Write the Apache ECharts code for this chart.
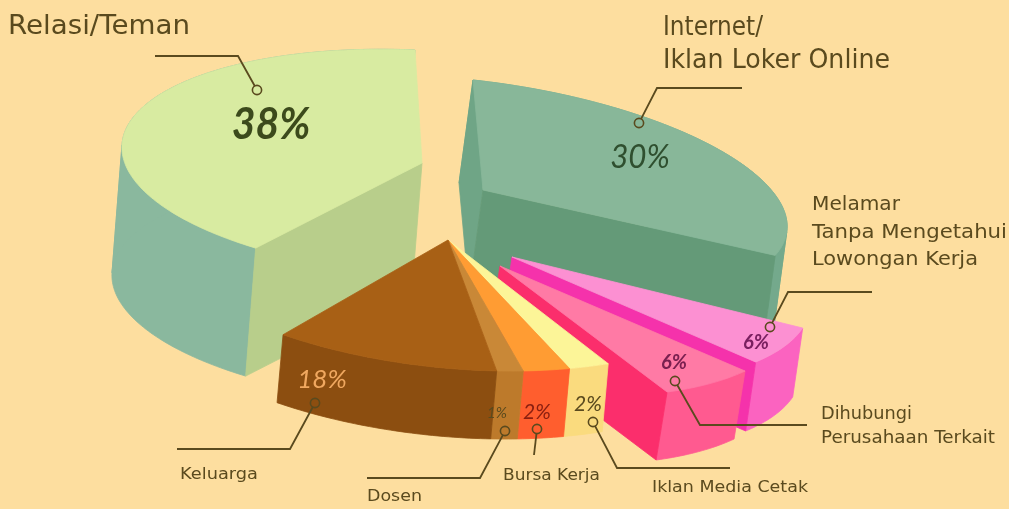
<!DOCTYPE html>
<html><head><meta charset="utf-8">
<style>html,body{margin:0;padding:0;background:#FDDE9F}#c{width:1009px;height:509px}</style>
<script src="https://cdn.jsdelivr.net/npm/echarts@6/dist/echarts.min.js"></script>
</head><body><div id="c"></div>
<script>
// ---- data ----
var categories = ['Relasi/Teman','Internet/Iklan Loker Online','Melamar Tanpa Mengetahui Lowongan Kerja','Dihubungi Perusahaan Terkait','Iklan Media Cetak','Bursa Kerja','Dosen','Keluarga'];
var percentValues = [38,30,6,6,2,2,1,18];
var percentLabels = ['38%','30%','6%','6%','2%','2%','1%','18%'];

// ---- geometry: each slice's sweep = value x degPerUnit on its projected ellipse ----
var lowerU=[303,-3], lowerV=[70,131], lowerApex=[448,240], lowerD=[-6,68];
var sliceLayout = [
 {apex:[422,163],u:[300,13],v:[7,113],start:125,deg:3.816,d:[-10,128],top:'#D8EBA1',outer:'#8AB89E',wallS:'#B8CE8B',wallE:null},
 {apex:[483,190],u:[304,33],v:[10,110],start:-90,deg:3.6,d:[-14,103],top:'#88B799',outer:'#74A98C',wallS:'#6FA586',wallE:'#649A78'},
 {apex:[512,257],u:[272,89.6],v:[-125.6,90.7],start:-10.8,deg:3.6,d:[-10,69],top:'#FC90D2',outer:'#FB63C0',wallS:null,wallE:'#F532AB'},
 {apex:[500,266],u:[209.8,117.6],v:[-208,56],start:-10.8,deg:3.6,d:[-11,68],top:'#FF7AA5',outer:'#FF5A90',wallS:null,wallE:'#FB2E6C'},
 {apex:lowerApex,u:lowerU,v:lowerV,start:72,deg:4,d:lowerD,top:'#FCF598',outer:'#FADB7E'},
 {apex:lowerApex,u:lowerU,v:lowerV,start:80,deg:4.5,d:lowerD,top:'#FF9C33',outer:'#FF5E2E'},
 {apex:lowerApex,u:lowerU,v:lowerV,start:89,deg:5,d:lowerD,top:'#C98837',outer:'#BD7A2B'},
 {apex:lowerApex,u:lowerU,v:lowerV,start:94,deg:2.28,d:lowerD,top:'#A86015',outer:'#8C4E10'}
];
var percentStyle = [
 {pos:[271,125],size:44,sx:0.93,color:'#3C4A1C',bold:true},{pos:[640,157],size:33,sx:0.95,color:'#2F4F2F',bold:false},
 {pos:[756,343],size:20,sx:1,color:'#7A2060',bold:true},{pos:[674,363],size:20,sx:1,color:'#7A2050',bold:true},
 {pos:[588,404],size:21,sx:1,color:'#5A4A1E',bold:false},{pos:[537,412],size:21,sx:1,color:'#8A1F10',bold:false},
 {pos:[497,413],size:15,sx:1,color:'#5A4A1E',bold:false},{pos:[322,380],size:26,sx:1,color:'#F0A860',bold:false}
];
var leaderPaths = [
 [[155,56],[238,56],[257,90]],[[742,88],[657,88],[639,123]],[[872,292],[788,292],[770,327]],
 [[807,425],[700,425],[675,381]],[[730,468],[617,468],[593,422]],[[534,455],[537,429]],
 [[367,478],[480,478],[505,431]],[[177,449],[290,449],[315,403]]
];
var nameLabels = [
 {t:'Relasi/Teman',x:8,y:27,s:26,w:182},{t:'Internet/',x:663,y:28,s:26,w:100},{t:'Iklan Loker Online',x:663,y:61,s:26,w:227},
 {t:'Melamar',x:812,y:205,s:19.5,w:88},{t:'Tanpa Mengetahui',x:812,y:233,s:19.5,w:195},{t:'Lowongan Kerja',x:812,y:260,s:19.5,w:166},
 {t:'Dihubungi',x:821,y:414,s:17.5,w:91},{t:'Perusahaan Terkait',x:821,y:438,s:17.5,w:174},
 {t:'Iklan Media Cetak',x:652,y:488,s:16.5,w:156},{t:'Bursa Kerja',x:503,y:476,s:16.5,w:97},
 {t:'Dosen',x:367,y:497,s:16.5,w:55},{t:'Keluarga',x:180,y:475,s:16.5,w:78}
];
var inkColor='#5A4A1E';

function ptAt(l,t){var r=t*Math.PI/180,c=Math.cos(r),s=Math.sin(r);
 return [l.apex[0]+l.u[0]*c+l.v[0]*s,l.apex[1]+l.u[1]*c+l.v[1]*s];}
function add(p,d){return [p[0]+d[0],p[1]+d[1]];}
var measureCtx=document.createElement('canvas').getContext('2d');
function fitScale(s){measureCtx.font=s.s+'px "DejaVu Sans"';return s.w/measureCtx.measureText(s.t).width;}

var chart=echarts.init(document.getElementById('c'));
chart.setOption({
 animation:false,backgroundColor:'#FDDE9F',
 grid:{left:0,right:0,top:0,bottom:0},
 xAxis:{type:'value',min:0,max:1009,show:false},
 yAxis:{type:'value',min:0,max:509,inverse:true,show:false},
 series:[
  {type:'custom',coordinateSystem:'cartesian2d',silent:true,
   data:percentValues.map(function(v,i){return [i,v];}),
   encode:{x:0,y:1},clip:false,
   renderItem:function(params,api){
    var i=api.value(0),val=api.value(1),l=sliceLayout[i],sweep=val*l.deg,rim=[];
    var n=Math.max(6,Math.ceil(sweep));
    for(var k=0;k<=n;k++){rim.push(ptAt(l,l.start+sweep*k/n));}
    var P=function(pts){return pts.map(function(p){return api.coord(p);});};
    var ch=[];
    var poly=function(pts,col){ch.push({type:'polygon',shape:{points:P(pts)},style:{fill:col,stroke:col,lineWidth:0.8}});};
    // outer wall: one simple band per run of rim that turns the same way against the extrusion
    var sign=function(j){var a=rim[j],b=rim[j+1];return ((b[0]-a[0])*l.d[1]-(b[1]-a[1])*l.d[0])>=0;};
    var from=0;
    for(var j=1;j<=n;j++){
      if(j===n||sign(j)!==sign(from)){
        var run=rim.slice(from,j+1);
        poly(run.concat(run.map(function(p){return add(p,l.d);}).reverse()),l.outer);
        from=j;
      }
    }
    var A=l.apex,S=rim[0],E=rim[n];
    if(l.wallS){poly([A,S,add(S,l.d),add(A,l.d)],l.wallS);}
    if(l.wallE){poly([A,E,add(E,l.d),add(A,l.d)],l.wallE);}
    poly([A].concat(rim),l.top);
    return {type:'group',children:ch};
   }},
  {type:'custom',coordinateSystem:'cartesian2d',silent:true,z:5,
   data:leaderPaths.map(function(p,i){return [i];}),
   encode:{x:0},clip:false,
   renderItem:function(params,api){
    var i=api.value(0),path=leaderPaths[i],pts=path.map(function(p){return api.coord(p);}),e=pts[pts.length-1];
    var last=pts[pts.length-2],dx=e[0]-last[0],dy=e[1]-last[1],len=Math.sqrt(dx*dx+dy*dy),r=4.6;
    var line=pts.slice(0,pts.length-1).concat([[e[0]-dx/len*r,e[1]-dy/len*r]]);
    return {type:'group',children:[
     {type:'polyline',shape:{points:line},style:{stroke:inkColor,lineWidth:1.8,fill:null}},
     {type:'circle',shape:{cx:e[0],cy:e[1],r:r},style:{stroke:inkColor,lineWidth:1.6,fill:null}}
    ]};
   }},
  {type:'custom',coordinateSystem:'cartesian2d',silent:true,z:6,
   data:percentLabels.map(function(t,i){return [i];}),
   encode:{x:0},clip:false,
   renderItem:function(params,api){
    var i=api.value(0),s=percentStyle[i],c=api.coord(s.pos);
    return {type:'text',x:c[0],y:c[1],scaleX:s.sx,style:{text:percentLabels[i],fontFamily:'Lato',fontStyle:'italic',fontWeight:s.bold?'bold':'normal',fontSize:s.size,fill:s.color,align:'center',verticalAlign:'middle'}};
   }},
  {type:'custom',coordinateSystem:'cartesian2d',silent:true,z:6,
   data:nameLabels.map(function(t,i){return [i];}),
   encode:{x:0},clip:false,
   renderItem:function(params,api){
    var i=api.value(0),s=nameLabels[i],c=api.coord([s.x,s.y]);
    return {type:'text',x:c[0],y:c[1],scaleX:fitScale(s),style:{text:s.t,fontFamily:'DejaVu Sans',fontSize:s.s,fill:inkColor,align:'left',verticalAlign:'middle'}};
   }}
 ]
});
</script></body></html>
